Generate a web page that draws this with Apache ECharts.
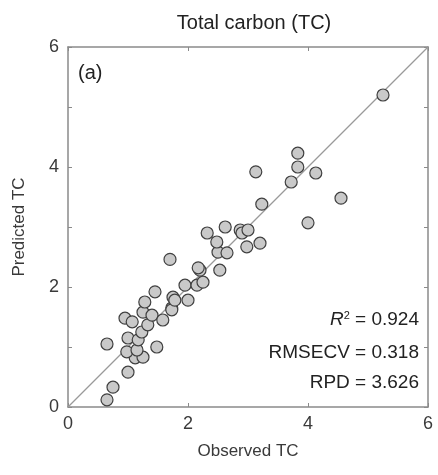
<!DOCTYPE html>
<html>
<head>
<meta charset="utf-8">
<script src="https://cdn.jsdelivr.net/npm/echarts@6/dist/echarts.min.js"></script>
<style>html,body{margin:0;padding:0;background:#fff}#c{width:438px;height:475px}</style>
</head>
<body>
<div id="c"></div>
<script>
const observed = [0.65,0.75,1.0,1.12,1.25,0.98,1.15,1.48,0.65,1.0,1.17,1.23,1.33,0.95,1.07,1.25,1.4,1.58,1.28,1.45,1.75,1.73,1.73,1.78,2.0,1.95,2.15,2.25,1.7,2.2,2.53,2.17,2.5,2.65,2.48,2.32,2.62,2.87,2.9,3.0,2.98,3.2,3.23,3.13,3.72,3.83,3.83,4.13,4.55,4.0,5.25];
const predicted = [0.12,0.33,0.58,0.82,0.83,0.92,0.95,1.0,1.05,1.15,1.12,1.25,1.37,1.48,1.42,1.58,1.53,1.45,1.75,1.92,1.83,1.65,1.62,1.78,1.78,2.03,2.03,2.08,2.46,2.28,2.28,2.32,2.58,2.57,2.75,2.9,3.0,2.95,2.9,2.95,2.67,2.73,3.38,3.92,3.75,4.23,4.0,3.9,3.48,3.07,5.2];
const tickValues = [0,2,4,6];
const stats = ['0.924','0.318','3.626'];

const pts = observed.map((x,i)=>[x,predicted[i]]);
const chart = echarts.init(document.getElementById('c'));
const txt = '#3a3a3a';
const frame = '#8a8a8a';
const font = 'Liberation Sans, Arial, sans-serif';
const evenOnly = v => (tickValues.indexOf(v) >= 0 ? String(v) : '');
function axisCommon(interval){
  return {
    type:'value', min:0, max:6, interval:interval,
    splitLine:{show:false},
    axisLine:{show:true, onZero:false, lineStyle:{color:frame, width:1.5}},
    axisTick:{show:true, inside:true, length:4, lineStyle:{color:frame}},
  };
}
chart.setOption({
  animation:false,
  title:{text:'Total carbon (TC)', left:249, top:8, textAlign:'center',
    textStyle:{fontFamily:font, fontSize:20, fontWeight:'normal', color:'#222'}},
  grid:{left:68, right:10, top:47, bottom:68},
  xAxis:[
    Object.assign(axisCommon(2), {position:'bottom', name:'Observed TC', nameLocation:'middle', nameGap:36,
      nameTextStyle:{fontFamily:font, fontSize:17, color:txt},
      axisLabel:{fontFamily:font, fontSize:18, color:txt, margin:8}}),
    Object.assign(axisCommon(2), {position:'top', axisLabel:{show:false}})
  ],
  yAxis:[
    Object.assign(axisCommon(1), {position:'left', name:'Predicted TC', nameLocation:'middle', nameGap:40,
      nameTextStyle:{fontFamily:font, fontSize:17, color:txt},
      axisLabel:{fontFamily:font, fontSize:18, color:txt, margin:9, formatter:evenOnly}}),
    Object.assign(axisCommon(1), {position:'right', axisLabel:{show:false}})
  ],
  series:[
    {type:'line', data:[[0,0],[6,6]], symbol:'none', lineStyle:{color:'#9a9a9a', width:1.2}, z:1},
    {type:'scatter', data:pts, symbol:'circle', symbolSize:12,
      itemStyle:{color:'#c9c9c9', borderColor:'#404040', borderWidth:1.2, opacity:1}, z:2}
  ],
  graphic:[
    {type:'text', left:78, top:63, style:{text:'(a)', font:'20px '+font, fill:'#222'}},
    {type:'text', right:19, top:310, style:{
      text:'{i|R}{s|2} = '+stats[0], align:'right', fill:'#222',
      rich:{i:{fontStyle:'italic', fontFamily:font, fontSize:19, fill:'#222'},
            s:{fontFamily:font, fontSize:11, verticalAlign:'top', padding:[0,0,8,0], fill:'#222'}},
      font:'19px '+font}},
    {type:'text', right:19, top:343, style:{text:'RMSECV = '+stats[1], font:'19px '+font, fill:'#222'}},
    {type:'text', right:19, top:373, style:{text:'RPD = '+stats[2], font:'19px '+font, fill:'#222'}}
  ]
});
</script>
</body>
</html>
